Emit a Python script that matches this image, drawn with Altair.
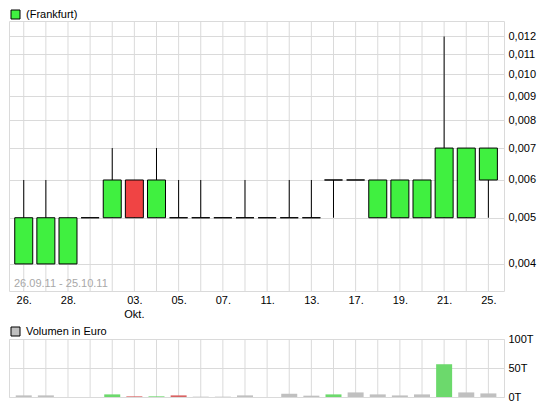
import altair as alt
import pandas as pd

# ---- data ----
dates = ["26.09.", "27.09.", "28.09.", "29.09.", "30.09.", "03.10.", "04.10.", "05.10.",
         "06.10.", "07.10.", "10.10.", "11.10.", "12.10.", "13.10.", "14.10.", "17.10.",
         "18.10.", "19.10.", "20.10.", "21.10.", "24.10.", "25.10."]
opens = [0.004, 0.004, 0.004, 0.005, 0.005, 0.006, 0.005, 0.005, 0.005, 0.005, 0.005,
         0.005, 0.005, 0.005, 0.006, 0.006, 0.005, 0.005, 0.005, 0.005, 0.005, 0.006]
highs = [0.006, 0.006, 0.005, 0.005, 0.007, 0.006, 0.007, 0.006, 0.006, 0.005, 0.006,
         0.005, 0.006, 0.006, 0.006, 0.006, 0.006, 0.006, 0.006, 0.012, 0.007, 0.007]
lows = [0.004, 0.004, 0.004, 0.005, 0.005, 0.005, 0.005, 0.005, 0.005, 0.005, 0.005,
        0.005, 0.005, 0.005, 0.005, 0.006, 0.005, 0.005, 0.005, 0.005, 0.005, 0.005]
closes = [0.005, 0.005, 0.005, 0.005, 0.006, 0.005, 0.006, 0.005, 0.005, 0.005, 0.005,
          0.005, 0.005, 0.005, 0.006, 0.006, 0.006, 0.006, 0.006, 0.007, 0.007, 0.007]
volumes_t = [2.8, 2.8, 0, 0, 4.5, 1.1, 1.1, 2.8, 0.6, 0.6, 2.8, 0, 5.6, 2.3, 4.5, 7.9,
             4.5, 2.7, 4.5, 56.5, 7.9, 6.2]

x_tick_idx = [0, 2, 5, 7, 9, 11, 13, 15, 17, 19, 21]
x_tick_labels = ["26.", "28.", "03.", "05.", "07.", "11.", "13.", "17.", "19.", "21.", "25."]
month_idx = [5]
month_labels = ["Okt."]
price_ticks = [0.004, 0.005, 0.006, 0.007, 0.008, 0.009, 0.010, 0.011, 0.012]
vol_ticks = [0, 50, 100]
series_name = "(Frankfurt)"
volume_name = "Volumen in Euro"
range_text = "26.09.11 - 25.10.11"

# ---- styles ----
FONT = "Liberation Sans"
GREEN = "#40f040"
RED = "#f04444"
VGREEN = "#6cd96c"
VRED = "#d96262"
VGRAY = "#c0c0c0"
GRID = "#dadada"
W = 495
H1 = 270
H2 = 58

rows = []
for i, (d, o, h, l, c, v) in enumerate(zip(dates, opens, highs, lows, closes, volumes_t)):
    body = GREEN if c >= o else RED
    if i == 0 or c == closes[i - 1]:
        vc = VGRAY
    elif c > closes[i - 1]:
        vc = VGREEN
    else:
        vc = VRED
    rows.append(dict(idx=i, date=d, open=o, high=h, low=l, close=c, vol=v, body=body, vcol=vc))
df = pd.DataFrame(rows)

label_expr = " : ".join(f"datum.value == {i} ? '{s}'" for i, s in zip(x_tick_idx, x_tick_labels)) + " : ''"

xscale = alt.Scale(domain=[-0.44, 21.48], nice=False, zero=False)
yscale = alt.Scale(type="log", domain=[0.00351, 0.012931], nice=False)

x_axis = alt.Axis(values=x_tick_idx, labelExpr=label_expr, grid=False,
                  ticks=False, domain=False, labelPadding=3,
                  labelFontSize=11, labelFont=FONT, labelColor="black",
                  labelFlush=False, labelOverlap=False)
y_axis = alt.Axis(orient="right", values=price_ticks,
                  labelExpr="replace(format(datum.value, '.3f'), '.', ',')",
                  grid=True, gridColor=GRID, ticks=False, domain=False,
                  labelPadding=4, labelFontSize=11, labelFont=FONT,
                  labelColor="black", labelFlush=False, labelOverlap=False)

base = alt.Chart(df)
vgrid1 = base.mark_rule(color=GRID, strokeWidth=1).encode(
    x=alt.X("idx:Q", scale=xscale, title=None, axis=x_axis))
wick = base.mark_rule(color="black", strokeWidth=1).encode(
    x=alt.X("idx:Q", scale=xscale, title=None, axis=x_axis),
    y=alt.Y("low:Q", scale=yscale, title=None, axis=y_axis), y2="high:Q")
body = base.mark_bar(size=18, stroke="black", strokeWidth=1).encode(
    x=alt.X("idx:Q", scale=xscale, title=None, axis=x_axis),
    y=alt.Y("open:Q", scale=yscale, title=None, axis=y_axis), y2="close:Q",
    fill=alt.Fill("body:N", scale=None))
rng = alt.Chart(pd.DataFrame({"t": [range_text]})).mark_text(
    align="left", baseline="bottom", fontSize=11, font=FONT, color="#a8a8a8").encode(
    text="t:N", x=alt.value(5), y=alt.value(H1 - 2))
month = alt.Chart(pd.DataFrame({"idx": month_idx, "t": month_labels})).mark_text(
    align="center", baseline="top", fontSize=11, font=FONT, color="black").encode(
    x=alt.X("idx:Q", scale=xscale, title=None, axis=x_axis), text="t:N",
    y=alt.value(H1 + 18))
leg1 = alt.Chart(pd.DataFrame({"name": [series_name]})).mark_square(
    opacity=0, filled=True, stroke="black", strokeWidth=1).encode(
    color=alt.Color("name:N", scale=alt.Scale(range=[GREEN]),
                    legend=alt.Legend(title=None, orient="none", legendX=1, legendY=-12,
                                      symbolType="square", symbolSize=81,
                                      symbolStrokeColor="black", symbolStrokeWidth=1,
                                      symbolOpacity=1, labelFontSize=11, labelFont=FONT,
                                      labelColor="black", labelOffset=5, padding=0)))

top = alt.layer(vgrid1, wick, body, rng, month, leg1).properties(width=W, height=H1)

v_axis = alt.Axis(orient="right", values=vol_ticks, labelExpr="datum.value + 'T'",
                  grid=True, gridColor=GRID, ticks=False, domain=False,
                  labelPadding=4, labelFontSize=11, labelFont=FONT,
                  labelColor="black", labelFlush=False, labelOverlap=False)
vscale = alt.Scale(domain=[0, 100], nice=False)
vgrid2 = base.mark_rule(color=GRID, strokeWidth=1).encode(
    x=alt.X("idx:Q", scale=xscale, title=None, axis=None),
    y=alt.value(0), y2=alt.value(H2))
vbars = base.mark_bar(size=16).encode(
    x=alt.X("idx:Q", scale=xscale, title=None, axis=None),
    y=alt.Y("vol:Q", scale=vscale, title=None, axis=v_axis),
    fill=alt.Fill("vcol:N", scale=None))
leg2 = alt.Chart(pd.DataFrame({"name": [volume_name]})).mark_square(
    opacity=0, filled=True, stroke="black", strokeWidth=1).encode(
    color=alt.Color("name:N", scale=alt.Scale(range=[VGRAY]),
                    legend=alt.Legend(title=None, orient="none", legendX=1, legendY=-13,
                                      symbolType="square", symbolSize=81,
                                      symbolStrokeColor="black", symbolStrokeWidth=1,
                                      symbolOpacity=1, labelFontSize=11, labelFont=FONT,
                                      labelColor="black", labelOffset=5, padding=0)))
bottom = alt.layer(vgrid2, vbars, leg2).properties(width=W, height=H2)

chart = alt.vconcat(top, bottom, spacing=4).resolve_scale(color="independent").properties(
    padding={"left": 0, "top": 0, "right": 0, "bottom": 0}
).configure(font=FONT).configure_view(stroke=GRID, strokeWidth=1)

chart.save("out.html", embed_options={"renderer": "svg", "actions": False})
